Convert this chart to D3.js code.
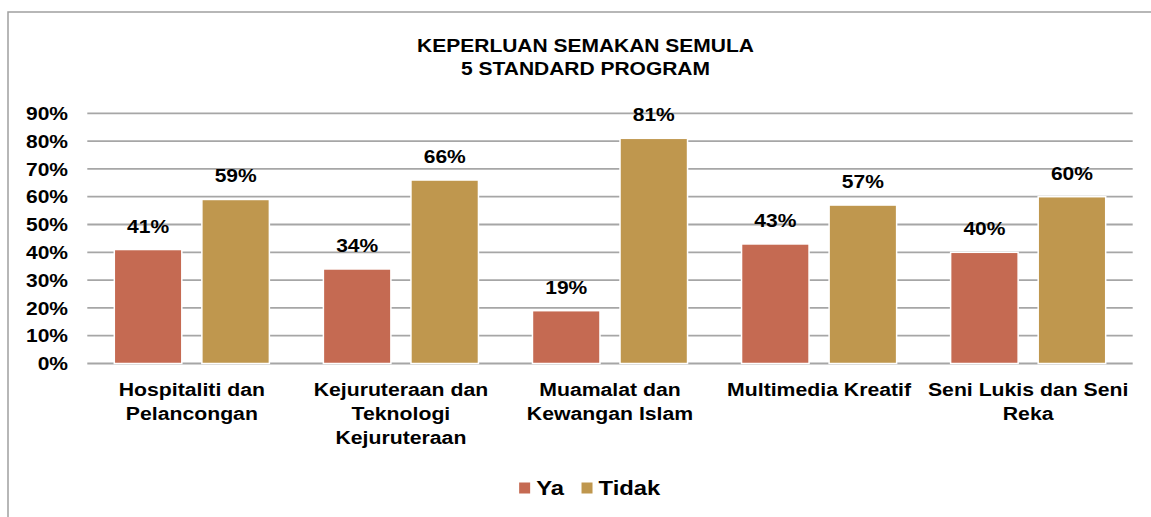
<!DOCTYPE html>
<html>
<head>
<meta charset="utf-8">
<script src="https://cdn.jsdelivr.net/npm/d3@7"></script>
<style>
  html, body { margin: 0; padding: 0; background: #fff; }
  svg { display: block; }
  text { font-family: "Liberation Sans", Arial, sans-serif; font-weight: bold; fill: #000; }
</style>
</head>
<body>
<script>
const categories = [
  ["Hospitaliti dan", "Pelancongan"],
  ["Kejuruteraan dan", "Teknologi", "Kejuruteraan"],
  ["Muamalat dan", "Kewangan Islam"],
  ["Multimedia Kreatif"],
  ["Seni Lukis dan Seni", "Reka"]
];
const seriesNames = ["Ya", "Tidak"];
const yaValues = [0.41, 0.34, 0.19, 0.43, 0.40];
const tidakValues = [0.59, 0.66, 0.81, 0.57, 0.60];
const yTicks = [0, 0.1, 0.2, 0.3, 0.4, 0.5, 0.6, 0.7, 0.8, 0.9];
const titleLines = ["KEPERLUAN SEMAKAN SEMULA", "5 STANDARD PROGRAM"];
const colors = ["#C56A52", "#BF974E"];

(function () {
const W = 1151, H = 517;
const SX = 1.135; // horizontal stretch of text in the reference

const svg = d3.select("body").append("svg").attr("width", W).attr("height", H);

// chart border
svg.append("rect").attr("x", 8).attr("y", 12).attr("width", 1160).attr("height", 520)
  .attr("fill", "none").attr("stroke", "#a0a0a0").attr("stroke-width", 1.5);

function txt(g, x, y, s, size, anchor) {
  return g.append("text")
    .attr("transform", `translate(${x},${y}) scale(${SX},1)`)
    .attr("text-anchor", anchor || "middle")
    .style("font-size", size + "px")
    .text(s);
}

// title
titleLines.forEach((t, i) => txt(svg, 585.5, 51.7 + i * 23.5, t, 18.5));

const pLeft = 87.3, pRight = 1132.7, pTop = 113.3, pBottom = 363.5;
const y = d3.scaleLinear().domain([0, 0.9]).range([pBottom, pTop]);
const x0 = d3.scaleBand().domain(d3.range(categories.length)).range([pLeft, pRight]).paddingInner(0).paddingOuter(0);
const x1 = d3.scaleBand().domain(seriesNames).range([27, x0.bandwidth() - 27]).paddingInner(0.229).paddingOuter(0);

// gridlines
svg.append("g").selectAll("line").data(yTicks).join("line")
  .attr("x1", pLeft).attr("x2", pRight)
  .attr("y1", d => y(d)).attr("y2", d => y(d))
  .attr("stroke", "#a6a6a6").attr("stroke-width", 1.8);

// y tick labels
const yAxisG = svg.append("g");
yTicks.forEach(d => txt(yAxisG, 68, y(d) + 6.7, d3.format(".0%")(d), 18.5, "end"));

// bars
const data = categories.map((c, i) => ({ i, vals: [
  { s: "Ya", v: yaValues[i], c: colors[0] },
  { s: "Tidak", v: tidakValues[i], c: colors[1] }
]}));

const groups = svg.append("g").selectAll("g").data(data).join("g")
  .attr("transform", d => `translate(${x0(d.i)},0)`);

groups.selectAll("rect").data(d => d.vals).join("rect")
  .attr("x", d => x1(d.s))
  .attr("width", x1.bandwidth())
  .attr("y", d => y(d.v))
  .attr("height", d => y(0) - y(d.v))
  .attr("fill", d => d.c)
  .attr("stroke", "#fff").attr("stroke-width", 1.5);

// data labels
groups.each(function(d) {
  const g = d3.select(this);
  d.vals.forEach(v => txt(g, x1(v.s) + x1.bandwidth() / 2, y(v.v) - 17, d3.format(".0%")(v.v), 18.5));
});

// category labels
const catG = svg.append("g");
categories.forEach((lines, i) => {
  lines.forEach((l, j) => txt(catG, x0(i) + x0.bandwidth() / 2, 396 + j * 24, l, 18.7));
});

// legend
const legG = svg.append("g");
const legendCenter = 590, sq = 11, gapSq = 6, gapItem = 17, legSize = 21;
const tmp = legG.append("g");
const widths = seriesNames.map(s => {
  const t = txt(tmp, 0, 0, s, legSize, "start");
  return t.node().getBBox().width * SX;
});
tmp.remove();
const itemW = widths.map(w => sq + gapSq + w);
const total = d3.sum(itemW) + gapItem * (seriesNames.length - 1);
let cx = legendCenter - total / 2;
seriesNames.forEach((s, i) => {
  legG.append("rect").attr("x", cx).attr("y", 482.5).attr("width", sq).attr("height", sq).attr("fill", colors[i]);
  txt(legG, cx + sq + gapSq, 495, s, legSize, "start");
  cx += itemW[i] + gapItem;
});
})();
</script>
</body>
</html>
